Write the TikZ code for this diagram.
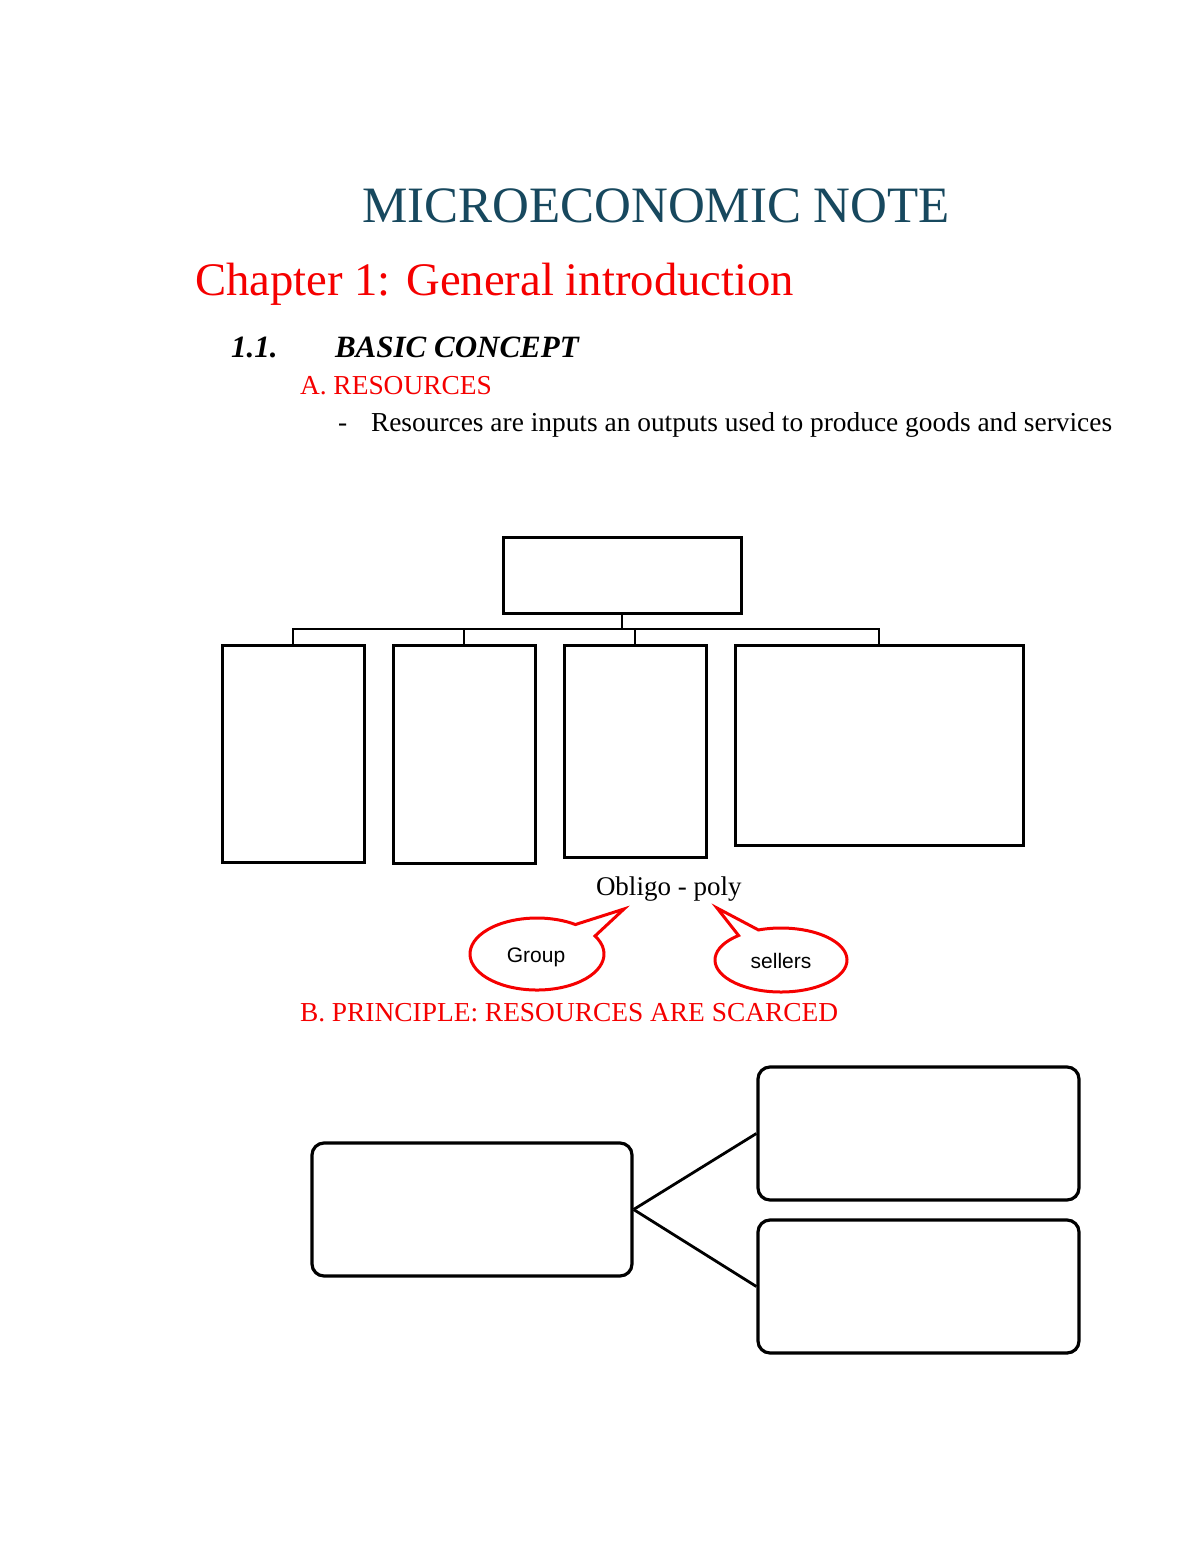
\documentclass[tikz,border=0pt]{standalone}
\usepackage{fontspec}
\setmainfont{Liberation Serif}
\newfontfamily\calloutfont{Liberation Sans}
\usetikzlibrary{calc}
\definecolor{titleblue}{RGB}{23,72,94}
\definecolor{headred}{RGB}{245,0,0}
\newcommand{\fsz}[1]{\fontsize{#1}{#1}\selectfont}
\begin{document}
\begin{tikzpicture}[x=0.5pt,y=-0.5pt,
  txt/.style={anchor=base west,inner sep=0pt,outer sep=0pt},
  orgbox/.style={draw=black,line width=1.5pt,inner sep=0pt,fill=white},
  orgline/.style={draw=black,line width=1pt},
  rbox/.style={draw=black,line width=1.6pt,rounded corners=6pt,inner sep=0pt},
  rline/.style={draw=black,line width=1.4pt},
  callout/.style={draw=headred,line width=1.5pt}]
\useasboundingbox (0,0) rectangle (1200,1553);
\fill[white] (0,0) rectangle (1200,1553);

% headings
\node[txt,text=titleblue] (title) at (362,222) {\fsz{25.5}MICROECONOMIC NOTE};
\node[txt,text=headred] (chap) at (195,295) {\fsz{23.35}Chapter 1: General introduction};
\node[txt] (num) at (231,357) {\fsz{15.5}\bfseries\itshape 1.1.};
\node[txt] (basic) at (335,357) {\fsz{15.5}\bfseries\itshape BASIC CONCEPT};
\node[txt,text=headred] (resA) at (300,394) {\fsz{13.7}A. RESOURCES};
\node[txt] (dash) at (338,431) {\fsz{13.7}-};
\node[txt] (def) at (371,431) {\fsz{13.7}Resources are inputs an outputs used to produce goods and services};

% org chart
\node[orgbox,minimum width=119pt,minimum height=38pt] (top) at (622,575) {};
\node[orgbox,minimum width=71pt,minimum height=108.5pt] (b1) at (293,753.5) {};
\node[orgbox,minimum width=71pt,minimum height=109pt] (b2) at (464,754) {};
\node[orgbox,minimum width=71pt,minimum height=106pt] (b3) at (635,751) {};
\node[orgbox,minimum width=144pt,minimum height=100pt] (b4) at (879,745) {};
\coordinate (bus) at (622,629);
\draw[orgline] (top.south) -- (top.south |- bus);
\draw[orgline] (b1.north) -- (b1.north |- bus) -- (b4.north |- bus) -- (b4.north);
\draw[orgline] (b2.north) -- (b2.north |- bus);
\draw[orgline] (b3.north) -- (b3.north |- bus);

% oligopoly
\node[txt] (oblig) at (596,895) {\fsz{13.5}Obligo - poly};
\coordinate (g) at (537,954);
\coordinate (gtip) at (624,909);
\draw[callout] ($(g)+(55:33.5pt and 18pt)$) -- (gtip) -- ($(g)+(30:33.5pt and 18pt)$)
  arc[start angle=30,end angle=-305,x radius=33.5pt,y radius=18pt] -- cycle;
\node[inner sep=0pt] (grp) at (536,957) {\calloutfont\fsz{10.5}Group};
\coordinate (s) at (781,960);
\coordinate (stip) at (717,908);
\draw[callout] ($(s)+(110:33pt and 16pt)$) -- (stip) -- ($(s)+(130:33pt and 16pt)$)
  arc[start angle=130,end angle=470,x radius=33pt,y radius=16pt] -- cycle;
\node[inner sep=0pt] (sel) at (781,961) {\calloutfont\fsz{10.5}sellers};

\node[txt,text=headred] (resB) at (300,1021) {\fsz{13.7}B. PRINCIPLE: RESOURCES ARE SCARCED};

% bottom diagram
\node[rbox,minimum width=160pt,minimum height=66.5pt] (L) at (472,1209.5) {};
\node[rbox,minimum width=160.5pt,minimum height=66.5pt] (R1) at (918.5,1133.5) {};
\node[rbox,minimum width=160.5pt,minimum height=66.5pt] (R2) at (918.5,1286.5) {};
\draw[rline] (L.east) -- (R1.west);
\draw[rline] (L.east) -- (R2.west);
\end{tikzpicture}
\end{document}
